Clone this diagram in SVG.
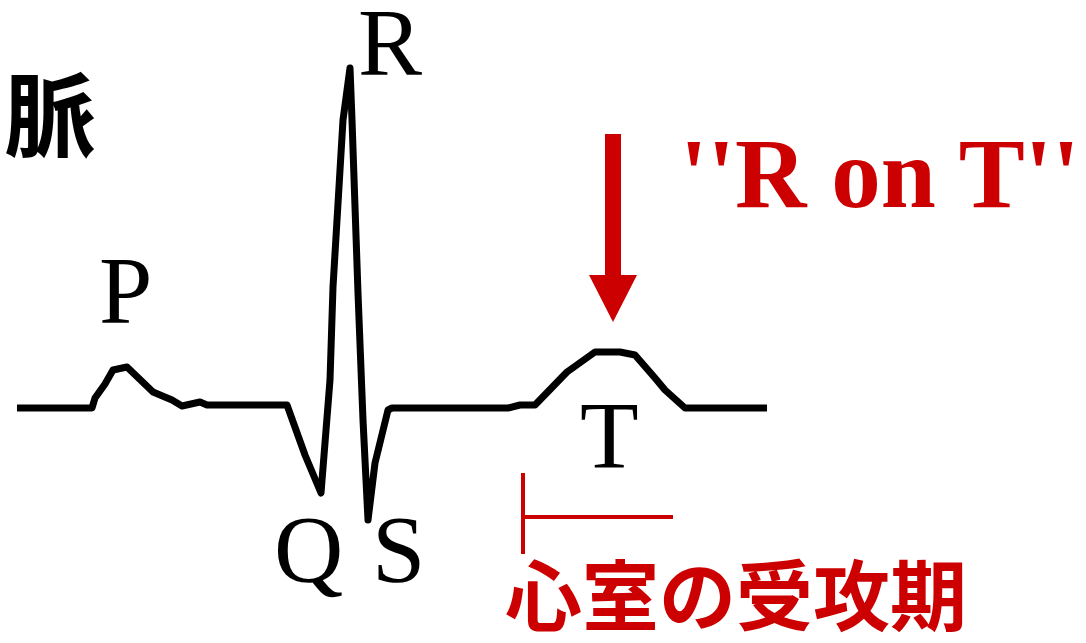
<svg xmlns="http://www.w3.org/2000/svg" width="1086" height="643" viewBox="0 0 1086 643">
<style>
.wave{fill:none;stroke:#000;stroke-width:7;stroke-linejoin:round;stroke-linecap:butt}
.lbl{font-family:"Liberation Serif","Times New Roman",serif;font-size:96px;fill:#000}
.red{fill:#CC0000}
.redline{stroke:#CC0000;stroke-width:4;fill:none}
.cjk{font-family:"Noto Sans CJK JP","Noto Sans CJK SC",sans-serif;font-weight:bold}
</style>
<rect width="1086" height="643" fill="#fff"/>
<g id="title"><text class="cjk" x="4" y="150" font-size="92" fill="#000">脈</text></g>
<g id="connectors">
<polyline id="ecg" class="wave" points="17,408 92,408 95,398 105,384 113,370 127,367 153,392 172,400 182,406 200,402 207,405 287,405 305,455 321,493 330,380 333,287 343,120 350,68 352,120 358,293 363,420 368,520 375,463 388,410 392,408 508,408 520,405 535,405 567,372 595,352 620,352 635,355 655,378 665,390 685,408 767,408"/>
<g id="arrow"><rect class="red" x="605" y="134" width="16" height="142"/><polygon class="red" points="589,275 637,275 613,322"/></g>
<g id="bracket"><line class="redline" x1="523" y1="473" x2="523" y2="554"/><line class="redline" x1="523" y1="517" x2="673" y2="517"/></g>
</g>
<g id="label-R"><text class="lbl" x="358" y="75">R</text></g>
<g id="label-P"><text class="lbl" x="99" y="323">P</text></g>
<g id="label-T"><text class="lbl" x="580" y="468">T</text></g>
<g id="label-Q"><text class="lbl" x="274" y="582">Q</text></g>
<g id="label-S"><text class="lbl" x="372" y="582">S</text></g>
<g id="label-RonT"><text x="680" y="207" font-family="Liberation Serif,'Times New Roman',serif" font-weight="bold" font-size="99" class="red">''R on T''</text></g>
<g id="label-vuln"><text class="cjk red" x="505" y="625" font-size="77">心室の受攻期</text></g>
</svg>
